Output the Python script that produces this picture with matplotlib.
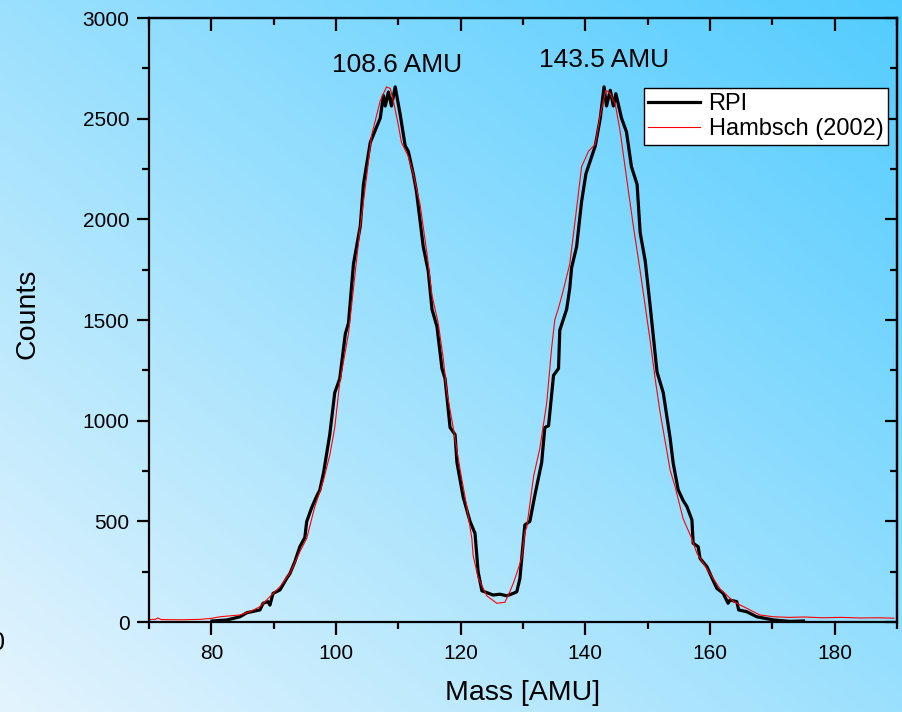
import matplotlib.pyplot as plt
import numpy as np

plt.rcParams['font.family'] = ['Liberation Sans', 'DejaVu Sans']

rpi_mass = [80.1, 82.5, 84.6, 85.7, 87.8, 88.3, 89.1, 89.4, 89.9, 91.0, 92.1, 92.6, 93.4, 94.2,
            95.0, 95.3, 96.1, 96.9, 97.4, 98.0, 99.0, 99.8, 100.6, 101.5, 102.0, 102.8, 103.9,
            104.4, 105.5, 107.1, 107.6, 107.9, 108.4, 108.9, 109.5, 110.3, 111.1, 111.6, 112.4,
            112.9, 114.0, 114.8, 115.4, 116.2, 117.0, 117.5, 118.3, 119.1, 119.4, 120.4, 121.5,
            122.3, 122.8, 123.4, 124.2, 125.2, 126.3, 127.4, 128.5, 129.0, 129.5, 130.1, 130.3,
            131.1, 131.9, 133.0, 133.5, 134.1, 134.9, 135.7, 135.9, 137.0, 137.5, 137.8, 138.6,
            139.4, 140.1, 141.6, 142.4, 143.0, 143.4, 144.0, 144.5, 144.9, 145.8, 146.6, 147.4,
            148.3, 148.8, 149.6, 150.4, 151.5, 152.5, 153.6, 154.1, 154.9, 155.7, 156.3, 157.1,
            157.3, 158.1, 158.4, 159.5, 160.5, 161.1, 162.1, 162.9, 163.2, 164.3, 164.6, 165.9,
            167.5, 170.2, 172.8, 175.0]
rpi_counts = [5, 10, 26, 46, 60, 93, 101, 84, 142, 159, 217, 240, 300, 374,
              420, 499, 568, 625, 655, 741, 931, 1139, 1208, 1432, 1484, 1778, 1967,
              2174, 2382, 2503, 2615, 2563, 2632, 2563, 2658, 2520, 2365, 2338, 2226,
              2140, 1864, 1743, 1553, 1467, 1259, 1208, 966, 931, 793, 621, 500,
              440, 250, 155, 146, 134, 138, 130, 143, 150, 215, 420, 482,
              500, 629, 793, 966, 975, 1225, 1259, 1449, 1553, 1657, 1760, 1864,
              2088, 2227, 2365, 2503, 2658, 2563, 2641, 2563, 2624, 2503, 2434, 2261,
              2174, 1933, 1795, 1570, 1242, 1139, 914, 788, 656, 603, 573, 507,
              391, 374, 316, 275, 206, 167, 143, 93, 109, 101, 60, 51,
              26, 10, 3, 5]

# Hambsch (2002)
hambsch_mass = [70.0, 71.0, 71.4, 72.0, 75.0, 78.2, 80.0, 81.4, 84.6, 86.2, 87.8, 89.4, 91.0,
                92.6, 94.2, 95.3, 96.6, 97.4, 98.0, 99.0, 99.8, 100.6, 102.0, 102.8, 103.9,
                104.9, 105.7, 107.1, 108.1, 108.7, 109.2, 110.0, 110.5, 111.6, 112.4, 113.5,
                114.6, 115.4, 116.4, 117.2, 117.8, 118.8, 119.9, 121.0, 121.8, 122.0, 122.8,
                124.2, 125.8, 127.1, 127.9, 128.5, 129.0, 129.8, 130.3, 130.6, 131.7, 132.7,
                133.8, 134.6, 135.1, 135.7, 136.4, 137.5, 138.6, 139.4, 140.5, 141.6, 142.4,
                143.3, 144.0, 144.8, 145.6, 146.6, 147.7, 148.8, 149.6, 150.4, 151.2, 152.0,
                153.1, 153.6, 154.4, 155.7, 157.1, 157.9, 158.4, 160.0, 161.6, 163.8, 165.9,
                168.0, 170.2, 172.8, 175.0, 178.0, 181.0, 184.0, 187.0, 189.5]
hambsch_counts = [12, 13, 20, 12, 11, 13, 18, 26, 35, 51, 76, 126, 175,
                  242, 349, 415, 573, 645, 705, 828, 966, 1190, 1432, 1656, 1967,
                  2209, 2416, 2589, 2658, 2650, 2589, 2468, 2382, 2313, 2226, 2071,
                  1829, 1622, 1484, 1311, 1139, 966, 759, 569, 413, 330, 220,
                  130, 93, 98, 151, 197, 242, 320, 448, 470, 724, 862,
                  1087, 1363, 1501, 1560, 1640, 1778, 2054, 2261, 2338, 2373, 2520,
                  2641, 2624, 2572, 2434, 2209, 1967, 1743, 1570, 1398, 1208, 1040,
                  845, 755, 672, 512, 413, 341, 318, 241, 165, 101, 68,
                  35, 26, 23, 25, 21, 23, 20, 21, 19]

fig = plt.figure(figsize=(9.03, 7.12), dpi=100)

# diagonal gradient background
bg = fig.add_axes([0, 0, 1, 1], zorder=-10)
yy, xx = np.mgrid[0:1:712j, 0:1:903j]
t = ((xx + (1 - yy)) / 2)[..., None]
c_low = np.array([228, 244, 253]) / 255
c_high = np.array([82, 204, 255]) / 255
bg.imshow(c_low + (c_high - c_low) * t, aspect='auto', interpolation='bilinear')
bg.axis('off')

ax = fig.add_axes([149 / 903, 1 - 622 / 712, 748 / 903, 604 / 712])
ax.patch.set_alpha(0)

ax.plot(rpi_mass, rpi_counts, color='black', lw=2.3, label='RPI')
ax.plot(hambsch_mass, hambsch_counts, color='red', lw=0.8, label='Hambsch (2002)')

ax.set_xlim(70, 190)
ax.set_ylim(0, 3000)
ax.set_xticks([80, 100, 120, 140, 160, 180])
ax.set_xticks(np.arange(70, 191, 10), minor=True)
ax.set_yticks(np.arange(0, 3001, 500))
ax.set_yticks(np.arange(0, 3001, 250), minor=True)

for s in ax.spines.values():
    s.set_linewidth(1.6)
ax.tick_params(which='both', direction='out', width=1.6, labelsize=15, top=False, right=False)
ax.tick_params(which='major', length=9)
ax.tick_params(which='minor', length=5)
ax.tick_params(axis='x', pad=7)
ax.tick_params(axis='y', pad=5)

# inward ticks on top and right
sec_x = ax.secondary_xaxis('top')
sec_x.set_xticks([80, 100, 120, 140, 160, 180])
sec_x.set_xticks(np.arange(70, 191, 10), minor=True)
sec_x.tick_params(which='both', direction='in', width=1.6, labeltop=False)
sec_x.tick_params(which='major', length=9)
sec_x.tick_params(which='minor', length=5)
sec_x.spines['top'].set_linewidth(1.6)
sec_y = ax.secondary_yaxis('right')
sec_y.set_yticks(np.arange(0, 3001, 500))
sec_y.set_yticks(np.arange(0, 3001, 250), minor=True)
sec_y.tick_params(which='both', direction='in', width=1.6, labelright=False)
sec_y.tick_params(which='major', length=9)
sec_y.tick_params(which='minor', length=5)
sec_y.spines['right'].set_linewidth(1.6)

ax.set_xlabel('Mass [AMU]', fontsize=20.5)
ax.set_ylabel('Counts', fontsize=20.5)
ax.xaxis.label.set_va('center')
ax.yaxis.label.set_va('center')
ax.xaxis.set_label_coords(0.5, -0.118)
ax.yaxis.set_label_coords(-0.162, 0.51)

ax.text(109.8, 2765, '108.6 AMU', fontsize=19, ha='center', va='center')
ax.text(143.0, 2790, '143.5 AMU', fontsize=19, ha='center', va='center')

leg = ax.legend(loc='upper right', bbox_to_anchor=(0.988, 0.884), borderaxespad=0,
                fontsize=17, frameon=True, fancybox=False, edgecolor='black',
                framealpha=1, handlelength=2.2, handletextpad=0.35,
                borderpad=0.2, labelspacing=0.15)
leg.get_frame().set_linewidth(1.0)

fig.text(5 / 903, 1 - 643 / 712, '0', fontsize=18, ha='right', va='center')

fig.savefig('out.png', dpi=100)
